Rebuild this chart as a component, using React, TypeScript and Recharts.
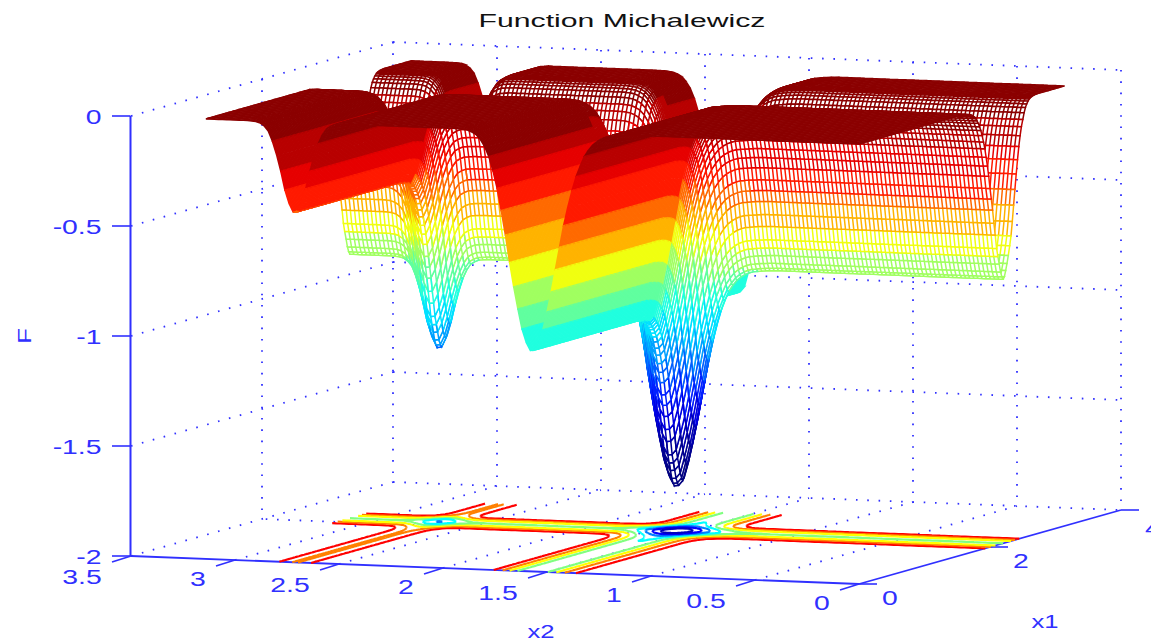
import React from "react";
import { ComposedChart, Line, Scatter, XAxis, YAxis } from "recharts";

// Depth of the surface read from the picture along each horizontal axis, one value per mesh
// step. The surface is the sum of these two read cross-sections: every slice in the picture repeats them.
const flat = (n: number) => Array(n).fill(0);
const meshStep = 0.02;
const x1Depth: number[] = [
  ...flat(80),
  0.002, 0.003, 0.004, 0.006, 0.008, 0.01, 0.014, 0.018, 0.025, 0.034,
  0.046, 0.059, 0.076, 0.095, 0.12, 0.15, 0.183, 0.223, 0.265, 0.313,
  0.37, 0.42, 0.472, 0.533, 0.589, 0.651, 0.69, 0.726, 0.763, 0.787,
  0.8, 0.79, 0.763, 0.733, 0.698, 0.656, 0.613, 0.549, 0.477, 0.407,
  0.338, 0.275, 0.217, 0.169, 0.13, 0.099, 0.07, 0.048, 0.033, 0.022,
  0.014, 0.009, 0.0055, 0.003, 0.002, 0.001,
  ...flat(22),
];
const x2Depth: number[] = [
  ...flat(55),
  0.001, 0.0015, 0.003, 0.0045, 0.007, 0.009, 0.015, 0.023, 0.035, 0.051,
  0.075, 0.105, 0.148, 0.198, 0.262, 0.338, 0.423, 0.522, 0.625, 0.726,
  0.818, 0.9, 0.97, 0.993, 0.996, 0.96, 0.9, 0.81, 0.71, 0.6,
  0.476, 0.365, 0.265, 0.186, 0.122, 0.077, 0.046, 0.025, 0.014, 0.006,
  0.003, 0.001,
  ...flat(28),
  0.002, 0.004, 0.012, 0.024, 0.052, 0.093, 0.15, 0.22, 0.3, 0.365,
  0.406, 0.409, 0.37, 0.31, 0.225, 0.151, 0.09, 0.045, 0.022, 0.009,
  0.003, 0.001,
  ...flat(11),
];

const fTicks = [0, -0.5, -1, -1.5, -2];
const x2Ticks = [3.5, 3, 2.5, 2, 1.5, 1, 0.5, 0];
const x1Ticks = [0, 2, 4];
const bandColors = [
  "#8b0000", "#b80000", "#e60000", "#ff1a00", "#ff6a00", "#ffb300", "#f0ff10", "#a0ff60", "#60ff9f",
  "#20ffdf", "#00e0ff", "#00a0ff", "#0060ff", "#0020ff", "#0000e0", "#0000b0", "#000090", "#000080",
];
const contourLevels = [-0.2, -0.4, -0.6, -0.8, -1, -1.2, -1.4, -1.6];
const contourColors = ["#ff0000", "#ff8000", "#ffff00", "#80ff80", "#00ffff", "#0080ff", "#0000ff", "#0000c0"];

const BLUE = "#3030ff";
const FONT = "'Liberation Sans', Arial, sans-serif";

const project = (x1: number, x2: number, f: number) => ({
  x: 859 - 208 * x2 + 65.5 * x1,
  y: 584 - 8 * x2 - 18.5 * x1 - (f + 2) * 220,
});
const r = (v: number) => Math.round(v * 10) / 10;
const pt = (x1: number, x2: number, f: number) => {
  const p = project(x1, x2, f);
  return `${r(p.x)} ${r(p.y)}`;
};
const surf = (i: number, j: number) => -(x1Depth[i] + x2Depth[j]);

// one strip of mesh cells, back to front
type Strip = { x: number; y: number; outline: string; paths: { color: string; d: string }[] };
const strips: Strip[] = [];
for (let i = x1Depth.length - 2; i >= 0; i--) {
  const groups: Record<number, string[]> = {};
  let outlineA = "";
  let outlineB: string[] = [];
  for (let j = 0; j < x2Depth.length; j++) {
    outlineA += (j ? "L" : "M") + pt((i + 1) * meshStep, j * meshStep, surf(i + 1, j));
    outlineB.unshift("L" + pt(i * meshStep, j * meshStep, surf(i, j)));
    if (j === x2Depth.length - 1) continue;
    const mean = (surf(i, j) + surf(i + 1, j) + surf(i, j + 1) + surf(i + 1, j + 1)) / 4;
    const lvl = Math.min(bandColors.length - 1, Math.floor(-mean / 0.1));
    (groups[lvl] ||= []).push(
      "M" + pt(i * meshStep, j * meshStep, surf(i, j)) +
        "L" + pt((i + 1) * meshStep, j * meshStep, surf(i + 1, j)) +
        "L" + pt((i + 1) * meshStep, (j + 1) * meshStep, surf(i + 1, j + 1)) +
        "L" + pt(i * meshStep, (j + 1) * meshStep, surf(i, j + 1)) + "Z",
    );
  }
  const anchor = project(i * meshStep, 0, -2);
  strips.push({
    x: anchor.x,
    y: anchor.y,
    outline: outlineA + outlineB.join("") + "Z",
    paths: Object.keys(groups).map((k) => ({ color: bandColors[+k], d: groups[+k].join("") })),
  });
}

// floor contours
const contourData = contourLevels.map((level, li) => {
  let d = "";
  const n1 = x1Depth.length, n2 = x2Depth.length;
  for (let i = 0; i < n1 - 1; i++) {
    for (let j = 0; j < n2 - 1; j++) {
      const c = [surf(i, j), surf(i + 1, j), surf(i + 1, j + 1), surf(i, j + 1)];
      const above = c.map((v) => v > level);
      if (above.every(Boolean) || above.every((b) => !b)) continue;
      const corners = [[i, j], [i + 1, j], [i + 1, j + 1], [i, j + 1]];
      const cross: string[] = [];
      for (let e = 0; e < 4; e++) {
        const n = (e + 1) % 4;
        if (above[e] !== above[n]) {
          const t = (level - c[e]) / (c[n] - c[e]);
          cross.push(pt(
            (corners[e][0] + t * (corners[n][0] - corners[e][0])) * meshStep,
            (corners[e][1] + t * (corners[n][1] - corners[e][1])) * meshStep,
            -2,
          ));
        }
      }
      if (cross.length >= 2) d += `M${cross[0]}L${cross[1]}`;
      if (cross.length === 4) d += `M${cross[2]}L${cross[3]}`;
    }
  }
  const a = project(2, 1.5, -2);
  return { x: a.x, y: a.y, d, color: contourColors[li] };
});

// dotted box grid
const seg = (a: number[], b: number[]) => {
  const p = project(a[0], a[1], a[2]);
  const q = project(b[0], b[1], b[2]);
  return [{ x: p.x, y: p.y }, { x: q.x, y: q.y }];
};
const dotted: { x: number; y: number }[][] = [];
fTicks.slice(0, 4).forEach((f) => {
  dotted.push(seg([0, 3.5, f], [4, 3.5, f]));
  dotted.push(seg([4, 3.5, f], [4, 0, f]));
});
dotted.push(seg([0, 3.5, -2], [4, 3.5, -2]), seg([4, 3.5, -2], [4, 0, -2]));
x2Ticks.forEach((v) => dotted.push(seg([4, v, 0], [4, v, -2])));
dotted.push(seg([2, 3.5, 0], [2, 3.5, -2]));
x2Ticks.slice(1, 7).forEach((v) => dotted.push(seg([0, v, -2], [4, v, -2])));
dotted.push(seg([2, 0, -2], [2, 3.5, -2]));

// solid axes and tick marks on the floor
const solid = [seg([0, 3.5, -2], [0, 0, -2]), seg([0, 0, -2], [4, 0, -2])];
const tickMarks = [
  ...x2Ticks.map((v) => {
    const p = project(0, v, -2);
    return [{ x: p.x, y: p.y }, { x: p.x - 19, y: p.y + 6 }];
  }),
  ...x1Ticks.map((v) => {
    const p = project(v, 0, -2);
    return [{ x: p.x, y: p.y }, { x: p.x + 18, y: p.y }];
  }),
];
const fAxisLine = [{ x: 130.5, f: 0 }, { x: 130.5, f: -2 }];
const fTickData = fTicks.map((f) => ({ x: 130.5, f }));

type Lab = { x: number; y: number; text: string; size: number; sx: number; color: string; rot?: number; shift?: number };
const labels: Lab[] = [
  ...x2Ticks.map((v) => {
    const p = project(0, v, -2);
    const long = String(v).length > 1;
    return { x: p.x + (long ? -49 : -37), y: p.y + (long ? 20 : 18), text: String(v), size: 21, sx: 1.35, color: BLUE };
  }),
  ...x1Ticks.map((v) => {
    const p = project(v, 0, -2);
    return v === 4
      ? { x: p.x + 20, y: p.y + 17, shift: 12, text: String(v), size: 21, sx: 1.35, color: BLUE }
      : { x: p.x + 31, y: p.y + 13, text: String(v), size: 21, sx: 1.35, color: BLUE };
  }),
  { x: 622, y: 20, text: "Function Michalewicz", size: 19, sx: 1.59, color: "#111111" },
  { x: 541, y: 632, text: "x2", size: 19, sx: 1.35, color: BLUE },
  { x: 1045, y: 622, text: "x1", size: 19, sx: 1.35, color: BLUE },
  { x: 25, y: 336, text: "F", size: 19, sx: 1.35, color: BLUE, rot: -90 },
];

const StripShape = (props: any) => {
  const s: Strip = props.payload;
  const dx = props.cx - s.x;
  const dy = props.cy - s.y;
  return (
    <g transform={`translate(${dx} ${dy})`}>
      <path d={s.outline} fill="#fff" stroke="none" />
      {s.paths.map((p, k) => (
        <path key={k} d={p.d} fill="none" stroke={p.color} strokeWidth={1.5} />
      ))}
    </g>
  );
};
const ContourShape = (props: any) => {
  const c = props.payload;
  return (
    <path transform={`translate(${props.cx - c.x} ${props.cy - c.y})`} d={c.d} fill="none" stroke={c.color} strokeWidth={2.2} />
  );
};
const LabelShape = (props: any) => {
  const l: Lab = props.payload;
  return (
    <text
      transform={`translate(${props.cx + (l.shift || 0)} ${props.cy}) rotate(${l.rot || 0}) scale(${l.sx} 1)`}
      textAnchor="middle"
      dominantBaseline="central"
      fontFamily={FONT}
      fontSize={l.size}
      fill={l.color}
    >
      {l.text}
    </text>
  );
};
const FTickShape = (props: any) => (
  <g>
    <line x1={props.cx - 18.5} x2={props.cx} y1={props.cy} y2={props.cy} stroke={BLUE} strokeWidth={1.6} />
    <text
      transform={`translate(${props.cx - 29} ${props.cy}) scale(1.35 1)`}
      textAnchor="end"
      dominantBaseline="central"
      fontFamily={FONT}
      fontSize={21}
      fill={BLUE}
    >
      {props.payload.f}
    </text>
  </g>
);

export default function App() {
  return (
    <div style={{ position: "absolute", left: 0, top: 0, width: 1151, height: 643, background: "#fff", overflow: "hidden" }}>
      <ComposedChart width={1151} height={643} margin={{ top: 0, bottom: 0, left: 0, right: 0 }}>
        <XAxis xAxisId="px" dataKey="x" type="number" domain={[0, 1151]} hide />
        <YAxis yAxisId="py" dataKey="y" type="number" domain={[0, 643]} reversed hide />
        <YAxis yAxisId="f" dataKey="f" type="number" domain={[-2 - 87 / 220, 116 / 220]} hide />
        {dotted.map((d, k) => (
          <Line
            key={`g${k}`}
            data={d}
            xAxisId="px"
            yAxisId="py"
            dataKey="y"
            dot={false}
            stroke={BLUE}
            strokeWidth={1.8}
            strokeDasharray="1.6 9.7"
            isAnimationActive={false}
          />
        ))}
        <Line data={fAxisLine} xAxisId="px" yAxisId="f" dataKey="f" dot={false} stroke={BLUE} strokeWidth={2} isAnimationActive={false} />
        {solid.map((d, k) => (
          <Line key={`s${k}`} data={d} xAxisId="px" yAxisId="py" dataKey="y" dot={false} stroke={BLUE} strokeWidth={1.8} isAnimationActive={false} />
        ))}
        {tickMarks.map((d, k) => (
          <Line key={`t${k}`} data={d} xAxisId="px" yAxisId="py" dataKey="y" dot={false} stroke={BLUE} strokeWidth={1.6} isAnimationActive={false} />
        ))}
        <Scatter data={fTickData} xAxisId="px" yAxisId="f" shape={FTickShape} isAnimationActive={false} />
        <Scatter data={contourData} xAxisId="px" yAxisId="py" shape={ContourShape} isAnimationActive={false} />
        <Scatter data={strips} xAxisId="px" yAxisId="py" shape={StripShape} isAnimationActive={false} />
        <Scatter data={labels} xAxisId="px" yAxisId="py" shape={LabelShape} isAnimationActive={false} />
      </ComposedChart>
    </div>
  );
}
